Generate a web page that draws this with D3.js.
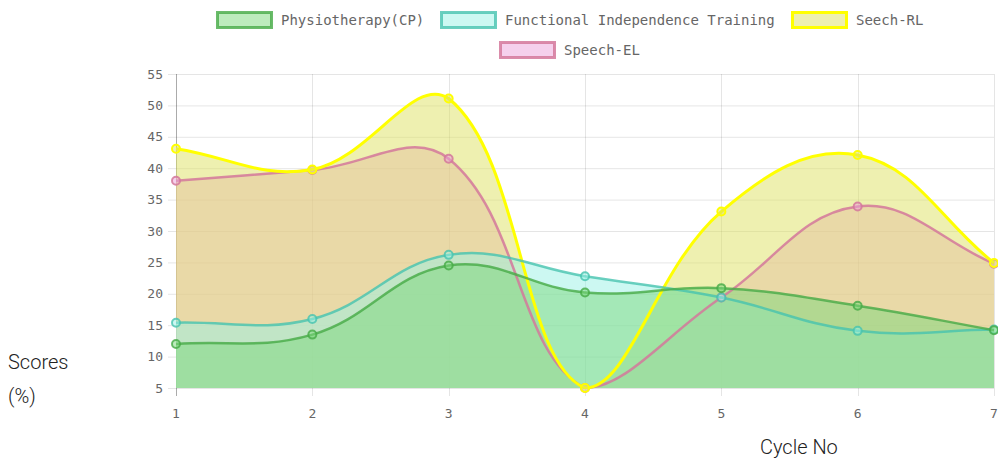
<!DOCTYPE html>
<html>
<head>
<meta charset="utf-8">
<script src="https://cdn.jsdelivr.net/npm/d3@7"></script>
<style>
  html, body { margin: 0; padding: 0; background: #fff; }
  svg { display: block; }
</style>
</head>
<body>
<svg id="chart" width="998" height="459"></svg>
<script>
// ---- data ----
const cycles = [1, 2, 3, 4, 5, 6, 7];
const physio = [12, 13.5, 24.5, 20.2, 20.9, 18.1, 14.2];
const fit = [15.4, 16, 26.2, 22.8, 19.4, 14.1, 14.3];
const seechRL = [43.1, 39.8, 51.1, 5, 33.1, 42.1, 24.9];
const speechEL = [38.0, 39.7, 41.5, 5, 19.4, 33.9, 24.8];
const seriesNames = ["Physiotherapy(CP)", "Functional Independence Training", "Seech-RL", "Speech-EL"];
const yTicks = [5, 10, 15, 20, 25, 30, 35, 40, 45, 50, 55];

const series = [
  { name: seriesNames[0], values: physio, fill: "rgba(123,215,123,0.5)", stroke: "rgba(70,170,70,0.8)", lw: 2.5 },
  { name: seriesNames[1], values: fit, fill: "rgba(153,241,229,0.5)", stroke: "rgba(70,195,175,0.8)", lw: 2.5 },
  { name: seriesNames[2], values: seechRL, fill: "rgba(221,225,97,0.5)", stroke: "#ffff00", lw: 3 },
  { name: seriesNames[3], values: speechEL, fill: "rgba(235,161,217,0.5)", stroke: "rgba(212,120,155,0.85)", lw: 2.5 }
];

const svg = d3.select("#chart");
const area = { left: 176, right: 994, top: 74, bottom: 388 };

const x = d3.scaleLinear().domain([1, 7]).range([area.left, area.right]);
const y = d3.scaleLinear().domain([5, 55]).range([area.bottom, area.top]);

const tickFont = "'DejaVu Sans Mono', monospace";

// ---- grid ----
const grid = svg.append("g");
grid.selectAll("line.h").data(yTicks).enter().append("line")
  .attr("x1", area.left - 8).attr("x2", area.right)
  .attr("y1", d => y(d) + 0.5).attr("y2", d => y(d) + 0.5)
  .attr("stroke", "rgba(0,0,0,0.1)").attr("stroke-width", 1);
grid.selectAll("line.v").data(cycles).enter().append("line")
  .attr("x1", d => Math.round(x(d)) + 0.5).attr("x2", d => Math.round(x(d)) + 0.5)
  .attr("y1", area.top).attr("y2", area.bottom + 8)
  .attr("stroke", "rgba(0,0,0,0.1)").attr("stroke-width", 1);
svg.append("line")
  .attr("x1", area.left + 0.5).attr("x2", area.left + 0.5)
  .attr("y1", area.top).attr("y2", area.bottom + 8)
  .attr("stroke", "rgba(0,0,0,0.25)").attr("stroke-width", 1);

// tick labels
svg.append("g").selectAll("text").data(yTicks).enter().append("text")
  .attr("x", area.left - 13).attr("y", d => y(d))
  .attr("dy", "0.35em").attr("text-anchor", "end")
  .attr("font-family", tickFont).attr("font-size", 13)
  .attr("fill", "#666").text(d => d);
svg.append("g").selectAll("text").data(cycles).enter().append("text")
  .attr("x", d => x(d)).attr("y", area.bottom + 25)
  .attr("dy", "0.35em").attr("text-anchor", "middle")
  .attr("font-family", tickFont).attr("font-size", 13)
  .attr("fill", "#666").text(d => d);

// ---- Chart.js-style spline ----
function controlPoints(pts, t) {
  const n = pts.length;
  return pts.map((cur, i) => {
    const prev = i > 0 ? pts[i - 1] : cur;
    const next = i < n - 1 ? pts[i + 1] : cur;
    const d01 = Math.hypot(cur[0] - prev[0], cur[1] - prev[1]);
    const d12 = Math.hypot(next[0] - cur[0], next[1] - cur[1]);
    let s01 = d01 / (d01 + d12), s12 = d12 / (d01 + d12);
    if (isNaN(s01)) s01 = 0; if (isNaN(s12)) s12 = 0;
    const fa = t * s01, fb = t * s12;
    const cap = (px, py) => [Math.max(area.left, Math.min(area.right, px)), Math.max(area.top, Math.min(area.bottom, py))];
    return {
      prev: cap(cur[0] - fa * (next[0] - prev[0]), cur[1] - fa * (next[1] - prev[1])),
      next: cap(cur[0] + fb * (next[0] - prev[0]), cur[1] + fb * (next[1] - prev[1]))
    };
  });
}
function linePath(pts, p) {
  const cps = controlPoints(pts, 0.4);
  p.moveTo(pts[0][0], pts[0][1]);
  for (let i = 1; i < pts.length; i++) {
    p.bezierCurveTo(cps[i - 1].next[0], cps[i - 1].next[1], cps[i].prev[0], cps[i].prev[1], pts[i][0], pts[i][1]);
  }
  return p;
}

svg.append("defs").append("clipPath").attr("id", "clip")
  .append("rect").attr("x", area.left - 2).attr("y", area.top - 4)
  .attr("width", area.right - area.left + 6).attr("height", area.bottom - area.top + 5);

const fillsG = svg.append("g");
const linesG = svg.append("g");
// draw in reverse order (first dataset on top); all fills below all lines
series.slice().reverse().forEach(s => {
  const pts = s.values.map((v, i) => [x(cycles[i]), y(v)]);
  const fp = linePath(pts, d3.path());
  fp.lineTo(pts[pts.length - 1][0], y(5));
  fp.lineTo(pts[0][0], y(5));
  fp.closePath();
  fillsG.append("path").attr("d", fp.toString()).attr("fill", s.fill).attr("clip-path", "url(#clip)");
  const lp = linePath(pts, d3.path());
  linesG.append("path").attr("d", lp.toString()).attr("fill", "none")
    .attr("stroke", s.stroke).attr("stroke-width", s.lw).attr("clip-path", "url(#clip)");
  linesG.append("g").selectAll("circle").data(pts).enter().append("circle")
    .attr("cx", d => d[0]).attr("cy", d => d[1]).attr("r", 4)
    .attr("fill", s.fill).attr("stroke", s.stroke).attr("stroke-width", 2);
});

// ---- legend ----
const legendItems = [
  { s: series[0], bx: 216, by: 12 },
  { s: series[1], bx: 440, by: 12 },
  { s: series[2], bx: 791, by: 12 },
  { s: series[3], bx: 499, by: 42 }
];
const lg = svg.append("g");
legendItems.forEach(it => {
  lg.append("rect").attr("x", it.bx + 1.5).attr("y", it.by + 0.5)
    .attr("width", 54).attr("height", 15)
    .attr("fill", it.s.fill).attr("stroke", it.s.stroke).attr("stroke-width", 3);
  lg.append("text").attr("x", it.bx + 65).attr("y", it.by + 8)
    .attr("dy", "0.35em").attr("font-family", tickFont).attr("font-size", 14)
    .attr("fill", "#666").text(it.s.name);
});

// ---- axis titles ----
const titleFont = "Roboto, sans-serif";
svg.append("text").attr("x", 8).attr("y", 369).attr("font-family", titleFont)
  .attr("font-weight", 300).attr("font-size", 20).attr("fill", "#222").text("Scores");
svg.append("text").attr("x", 8).attr("y", 403).attr("font-family", titleFont)
  .attr("font-weight", 300).attr("font-size", 20).attr("fill", "#222").text("(%)");
svg.append("text").attr("x", 760).attr("y", 454).attr("font-family", titleFont)
  .attr("font-weight", 300).attr("font-size", 20).attr("fill", "#222").text("Cycle No");
</script>
</body>
</html>
